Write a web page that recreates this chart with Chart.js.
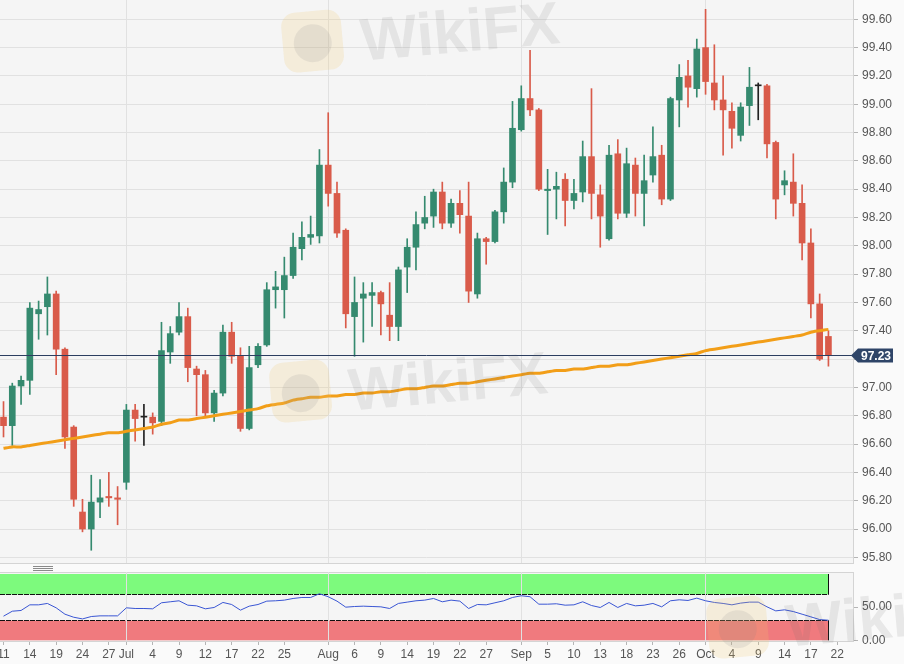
<!DOCTYPE html>
<html><head><meta charset="utf-8">
<script src="https://cdn.jsdelivr.net/npm/chart.js@4/dist/chart.umd.min.js"></script>
<style>
html,body{margin:0;padding:0;background:#fafafa;width:904px;height:664px;overflow:hidden;}
#wrap{position:relative;width:904px;height:664px;}
#main{position:absolute;left:0;top:0;}
#rsiC{position:absolute;left:0;top:564px;}
</style></head><body>
<div id="wrap">
<canvas id="main" width="904" height="564"></canvas>
<canvas id="rsiC" width="904" height="100"></canvas>
</div>
<script>
// ---- data (US Dollar Index, daily, 2019) ----
const dates = [
 'Jun 11','Jun 12','Jun 13','Jun 14','Jun 17','Jun 18','Jun 19','Jun 20','Jun 21','Jun 24','Jun 25','Jun 26','Jun 27','Jun 28',
 'Jul 1','Jul 2','Jul 3','Jul 4','Jul 5','Jul 8','Jul 9','Jul 10','Jul 11','Jul 12','Jul 15','Jul 16','Jul 17','Jul 18','Jul 19','Jul 22','Jul 23','Jul 24','Jul 25','Jul 26','Jul 29','Jul 30','Jul 31',
 'Aug 1','Aug 2','Aug 5','Aug 6','Aug 7','Aug 8','Aug 9','Aug 12','Aug 13','Aug 14','Aug 15','Aug 16','Aug 19','Aug 20','Aug 21','Aug 22','Aug 23','Aug 26','Aug 27','Aug 28','Aug 29','Aug 30',
 'Sep 2','Sep 3','Sep 4','Sep 5','Sep 6','Sep 9','Sep 10','Sep 11','Sep 12','Sep 13','Sep 16','Sep 17','Sep 18','Sep 19','Sep 20','Sep 23','Sep 24','Sep 25','Sep 26','Sep 27','Sep 30',
 'Oct 1','Oct 2','Oct 3','Oct 4','Oct 7','Oct 8','Oct 9','Oct 10','Oct 11','Oct 14','Oct 15','Oct 16','Oct 17','Oct 18','Oct 21'];
const open = [96.79,96.73,97.01,97.05,97.52,97.57,97.66,97.27,96.72,96.12,96.00,96.19,96.23,96.22,
 96.33,96.84,96.79,96.79,96.76,97.25,97.39,97.50,97.13,97.09,96.82,96.96,97.39,97.22,96.71,97.16,97.30,97.69,97.69,97.79,97.98,98.06,98.07,
 98.57,98.37,98.11,97.50,97.63,97.65,97.67,97.51,97.43,97.85,97.99,98.16,98.21,98.38,98.16,98.30,98.21,97.66,98.05,98.03,98.24,98.45,
 98.82,99.04,98.96,98.39,98.40,98.47,98.32,98.38,98.63,98.36,98.05,98.65,98.23,98.57,98.37,98.50,98.64,98.33,99.03,99.20,99.11,
 99.40,99.15,99.03,98.95,98.78,98.99,99.13,99.13,98.73,98.43,98.45,98.30,98.02,97.59,97.36];
const high = [96.90,97.03,97.08,97.60,97.61,97.78,97.68,97.28,96.73,96.21,96.38,96.35,96.40,96.30,
 96.88,96.88,96.88,96.82,97.46,97.43,97.60,97.56,97.15,97.12,96.98,97.44,97.46,97.28,97.29,97.31,97.74,97.82,97.92,98.09,98.17,98.21,98.68,
 98.94,98.45,98.12,97.78,97.74,97.74,97.68,97.74,97.85,98.05,98.24,98.35,98.40,98.45,98.33,98.39,98.45,98.09,98.06,98.25,98.55,99.02,
 99.13,99.38,98.97,98.54,98.52,98.51,98.47,98.74,99.11,98.43,98.71,98.75,98.69,98.62,98.64,98.84,98.71,99.05,99.28,99.31,99.46,
 99.67,99.42,99.20,99.01,99.01,99.26,99.15,99.14,98.74,98.53,98.65,98.43,98.12,97.66,97.40];
const low = [96.65,96.59,96.88,96.95,97.34,97.37,97.09,96.57,96.16,95.98,95.85,96.08,96.16,96.03,
 96.28,96.62,96.59,96.67,96.73,97.17,97.37,97.04,96.80,96.80,96.76,96.94,97.17,96.69,96.70,97.14,97.29,97.56,97.49,97.77,97.90,98.01,98.02,
 98.28,98.06,97.42,97.22,97.32,97.43,97.37,97.33,97.33,97.67,97.83,98.12,98.13,98.12,98.13,98.09,97.60,97.63,97.87,98.02,98.16,98.41,
 98.81,98.92,98.39,98.08,98.19,98.14,98.26,98.31,98.19,97.99,98.04,98.19,98.20,98.21,98.14,98.45,98.29,98.32,98.84,98.98,99.05,
 99.07,98.96,98.64,98.69,98.74,98.85,98.89,98.62,98.19,98.36,98.21,97.90,97.49,97.19,97.15];
const close = [96.73,97.01,97.05,97.56,97.55,97.66,97.27,96.65,96.21,96.00,96.19,96.22,96.22,96.21,
 96.84,96.78,96.79,96.75,97.26,97.38,97.50,97.14,97.09,96.82,96.96,97.39,97.22,96.71,97.14,97.29,97.69,97.71,97.79,97.99,98.06,98.08,98.57,
 98.37,98.09,97.52,97.60,97.66,97.67,97.59,97.43,97.83,97.99,98.15,98.20,98.38,98.16,98.30,98.22,97.68,98.05,98.03,98.24,98.45,98.83,
 99.04,98.96,98.40,98.40,98.42,98.32,98.37,98.63,98.37,98.21,98.64,98.23,98.58,98.37,98.46,98.63,98.33,99.04,99.19,99.12,99.39,
 99.16,99.03,98.96,98.83,98.98,99.12,99.13,98.72,98.33,98.46,98.30,98.02,97.59,97.20,97.23];
const ma200 = [96.57,96.58,96.58,96.59,96.60,96.61,96.62,96.63,96.64,96.65,96.66,96.67,96.68,96.68,
 96.69,96.70,96.71,96.72,96.74,96.75,96.77,96.77,96.78,96.79,96.80,96.81,96.82,96.83,96.84,96.85,96.87,96.88,96.89,96.91,96.92,96.93,96.93,
 96.94,96.94,96.95,96.95,96.96,96.96,96.97,96.97,96.98,96.99,96.99,97.00,97.01,97.01,97.02,97.03,97.03,97.04,97.05,97.06,97.07,97.08,
 97.09,97.10,97.10,97.11,97.12,97.12,97.13,97.13,97.14,97.15,97.15,97.16,97.16,97.17,97.18,97.19,97.20,97.21,97.22,97.23,97.24,
 97.26,97.27,97.28,97.29,97.30,97.31,97.32,97.33,97.34,97.35,97.36,97.37,97.39,97.40,97.41];
const rsi = [36.4,43.9,45.0,53.5,53.5,55.6,49.0,39.4,34.8,32.3,35.9,36.9,36.9,36.9,
 49.0,48.0,48.0,47.5,56.6,58.1,59.6,53.0,52.0,47.5,49.5,57.1,54.0,45.5,51.5,54.0,59.1,59.6,60.6,63.1,64.6,64.6,70.2,
 65.7,59.1,50.0,51.0,51.5,51.0,50.5,48.0,55.6,57.6,59.6,60.6,63.1,58.1,60.6,59.1,48.0,54.0,53.5,56.6,59.6,64.6,
 67.2,65.7,54.5,54.5,55.1,53.0,53.5,58.1,52.5,49.5,57.1,49.5,55.6,52.0,53.0,55.6,50.5,59.6,61.1,60.1,63.6,
 59.6,57.1,55.6,53.5,56.1,57.6,57.6,50.5,44.4,46.0,43.4,39.4,35.4,31.3,30.3];
const yTicks = [95.80,96.00,96.20,96.40,96.60,96.80,97.00,97.20,97.40,97.60,97.80,98.00,98.20,98.40,98.60,98.80,99.00,99.20,99.40,99.60];
const rsiTicks = [0,50];
const rsiUpper = 70, rsiLower = 30;
const tickIdx = [0,3,6,9,12,14,17,20,23,26,29,32,37,40,43,46,49,52,55,59,62,65,68,71,74,77,80,83,86,89,92,95];
const tickLbl = ['11','14','19','24','27','Jul','4','9','12','17','22','25','Aug','6','9','14','19','22','27','Sep','5','10','13','18','23','26','Oct','4','9','14','17','22'];
const monthIdx = [14,37,59,80];
const lastPrice = 97.23;

// ---- styles ----
const FONT = '"Liberation Sans", Arial, Helvetica, sans-serif';
const UP = '#358a6f', DOWN = '#d95b4a', DOJI = '#222222';
const GRID = '#e1e1e1', BORDER = '#d4d4d4', PLOT_BG = '#f5f5f5';
const XMIN = -0.4, XMAX = 96.8;

const col = i => close[i] > open[i] ? UP : (close[i] < open[i] ? DOWN : DOJI);
const colors = dates.map((d, i) => col(i));

function watermark(ctx, x, y) {
  ctx.save();
  ctx.translate(x, y);
  ctx.rotate(-0.09);
  ctx.fillStyle = 'rgba(240,200,110,0.20)';
  ctx.beginPath();
  if (ctx.roundRect) ctx.roundRect(0, 0, 60, 60, 14); else ctx.rect(0, 0, 60, 60);
  ctx.fill();
  ctx.fillStyle = 'rgba(120,120,130,0.13)';
  ctx.beginPath(); ctx.arc(30, 32, 19, 0, Math.PI * 2); ctx.fill();
  ctx.font = 'bold 60px ' + FONT;
  ctx.fillStyle = 'rgba(110,110,110,0.12)';
  ctx.textBaseline = 'alphabetic';
  ctx.fillText('WikiFX', 78, 54);
  ctx.restore();
}

const mainPlugin = {
  id: 'mainDeco',
  beforeDraw(chart) {
    const { ctx, chartArea: a } = chart;
    ctx.save();
    ctx.fillStyle = PLOT_BG;
    ctx.fillRect(a.left, a.top, a.right - a.left, a.bottom - a.top);
    ctx.restore();
  },
  afterDatasetsDraw(chart) {
    const { ctx, chartArea: a, scales: { y } } = chart;
    const py = Math.round(y.getPixelForValue(lastPrice)) + 0.5;
    ctx.save();
    ctx.strokeStyle = '#2c3e60';
    ctx.lineWidth = 1;
    ctx.beginPath(); ctx.moveTo(a.left, py); ctx.lineTo(a.right, py); ctx.stroke();
    ctx.restore();
  },
  afterDraw(chart) {
    const { ctx, chartArea: a, scales: { y } } = chart;
    watermark(ctx, 280, 14);
    watermark(ctx, 268, 364);
    // last price tag
    const py = Math.round(y.getPixelForValue(lastPrice)) + 0.5;
    const x0 = a.right - 2;
    ctx.save();
    ctx.fillStyle = '#2f4568';
    ctx.beginPath();
    ctx.moveTo(x0, py);
    ctx.lineTo(x0 + 7, py - 7);
    ctx.lineTo(893, py - 7);
    ctx.lineTo(893, py + 7);
    ctx.lineTo(x0 + 7, py + 7);
    ctx.closePath();
    ctx.fill();
    ctx.fillStyle = '#ffffff';
    ctx.font = 'bold 12px ' + FONT;
    ctx.textAlign = 'center';
    ctx.textBaseline = 'middle';
    ctx.fillText(lastPrice.toFixed(2), 876, py + 1);
    ctx.restore();
  }
};

new Chart(document.getElementById('main'), {
  type: 'bar',
  data: {
    datasets: [
      { type: 'bar', label: 'wick', data: dates.map((d, i) => ({ x: i, y: [low[i], high[i]] })),
        backgroundColor: colors, barThickness: 1, grouped: false, borderWidth: 0, order: 3 },
      { type: 'bar', label: 'body', data: dates.map((d, i) => ({ x: i, y: [open[i], close[i]] })),
        backgroundColor: colors, barThickness: 6, minBarLength: 1, grouped: false, borderWidth: 0, order: 2 },
      { type: 'line', label: 'MA200', data: dates.map((d, i) => ({ x: i, y: ma200[i] })),
        borderColor: '#f29e18', borderWidth: 3, pointRadius: 0, tension: 0.2, fill: false, order: 1 }
    ]
  },
  options: {
    responsive: false, animation: false, events: [],
    layout: { padding: 0 },
    plugins: { legend: { display: false }, tooltip: { enabled: false } },
    scales: {
      x: {
        type: 'linear', min: XMIN, max: XMAX, offset: false, bounds: 'data',
        grid: { offset: false, color: GRID, drawTicks: false },
        border: { display: true, color: BORDER },
        ticks: { display: false },
        afterBuildTicks: s => { s.ticks = monthIdx.map(v => ({ value: v })); },
        afterFit: s => { s.height = 1; s.paddingLeft = 0; s.paddingRight = 0; }
      },
      y: {
        type: 'linear', position: 'right', min: 95.76, max: 99.736, bounds: 'data',
        grid: { color: GRID, tickColor: '#b5b5b5', tickLength: 5 },
        border: { color: BORDER },
        ticks: { padding: 4, color: '#555', font: { size: 12, family: FONT }, callback: v => Number(v).toFixed(2) },
        afterBuildTicks: s => { s.ticks = yTicks.map(v => ({ value: v })); },
        afterFit: s => { s.width = 51; s.paddingTop = 0; s.paddingBottom = 0; }
      }
    }
  },
  plugins: [mainPlugin]
});

const rsiPlugin = {
  id: 'rsiDeco',
  beforeDraw(chart) {
    const { ctx, chartArea: a, scales: { x, y } } = chart;
    ctx.save();
    ctx.fillStyle = PLOT_BG;
    ctx.fillRect(a.left, a.top, a.right - a.left, a.bottom - a.top);
    const xr = Math.round(x.getPixelForValue(dates.length - 1)) + 0.5;
    const y100 = y.getPixelForValue(100), y70 = Math.round(y.getPixelForValue(rsiUpper)) + 0.5;
    const y30 = Math.round(y.getPixelForValue(rsiLower)) + 0.5, y0 = y.getPixelForValue(0);
    ctx.fillStyle = '#7dfa7d';
    ctx.fillRect(a.left, y100, xr - a.left, y70 - y100);
    ctx.fillStyle = '#f07a7e';
    ctx.fillRect(a.left, y30, xr - a.left, y0 - y30);
    ctx.strokeStyle = '#111';
    ctx.lineWidth = 1;
    ctx.setLineDash([5, 1]);
    ctx.beginPath();
    ctx.moveTo(a.left, y70); ctx.lineTo(xr, y70);
    ctx.moveTo(a.left, y30); ctx.lineTo(xr, y30);
    ctx.stroke();
    ctx.setLineDash([]);
    ctx.beginPath();
    ctx.moveTo(xr, y100); ctx.lineTo(xr, y70);
    ctx.moveTo(xr, y30); ctx.lineTo(xr, y0);
    ctx.stroke();
    // panel top border
    ctx.strokeStyle = BORDER;
    ctx.beginPath(); ctx.moveTo(a.left, a.top + 0.5); ctx.lineTo(a.right, a.top + 0.5); ctx.stroke();
    // resize handle
    ctx.strokeStyle = '#8a8a8a';
    ctx.beginPath();
    [2.5, 4.5, 6.5].forEach(yy => { ctx.moveTo(33, yy); ctx.lineTo(53, yy); });
    ctx.stroke();
    ctx.restore();
  },
  afterDraw(chart) {
    watermark(chart.ctx, 705, 600 - 564);
  }
};

new Chart(document.getElementById('rsiC'), {
  type: 'line',
  data: {
    datasets: [{ label: 'RSI', data: dates.map((d, i) => ({ x: i, y: rsi[i] })),
      borderColor: '#3a56d4', borderWidth: 1, pointRadius: 0, tension: 0, fill: false }]
  },
  options: {
    responsive: false, animation: false, events: [],
    layout: { padding: { top: 8, left: 0, right: 0, bottom: 0 } },
    plugins: { legend: { display: false }, tooltip: { enabled: false } },
    scales: {
      x: {
        type: 'linear', min: XMIN, max: XMAX, bounds: 'data',
        grid: { color: c => (c.tick && monthIdx.includes(c.tick.value)) ? GRID : 'rgba(0,0,0,0)', tickColor: '#b5b5b5', tickLength: 4 },
        border: { color: BORDER },
        ticks: { autoSkip: false, maxRotation: 0, padding: 2, color: '#555', font: { size: 12, family: FONT },
          callback: (v, idx) => tickLbl[idx] },
        afterBuildTicks: s => { s.ticks = tickIdx.map(v => ({ value: v })); },
        afterFit: s => { s.height = 23; s.paddingLeft = 0; s.paddingRight = 0; }
      },
      y: {
        type: 'linear', position: 'right', min: -1, max: 103, bounds: 'data',
        grid: { color: 'rgba(0,0,0,0)', tickColor: '#b5b5b5', tickLength: 5 },
        border: { color: BORDER },
        ticks: { padding: 4, color: '#555', font: { size: 12, family: FONT }, callback: v => Number(v).toFixed(2) },
        afterBuildTicks: s => { s.ticks = rsiTicks.map(v => ({ value: v })); },
        afterFit: s => { s.width = 51; s.paddingTop = 0; s.paddingBottom = 0; }
      }
    }
  },
  plugins: [rsiPlugin]
});
</script>
</body></html>
